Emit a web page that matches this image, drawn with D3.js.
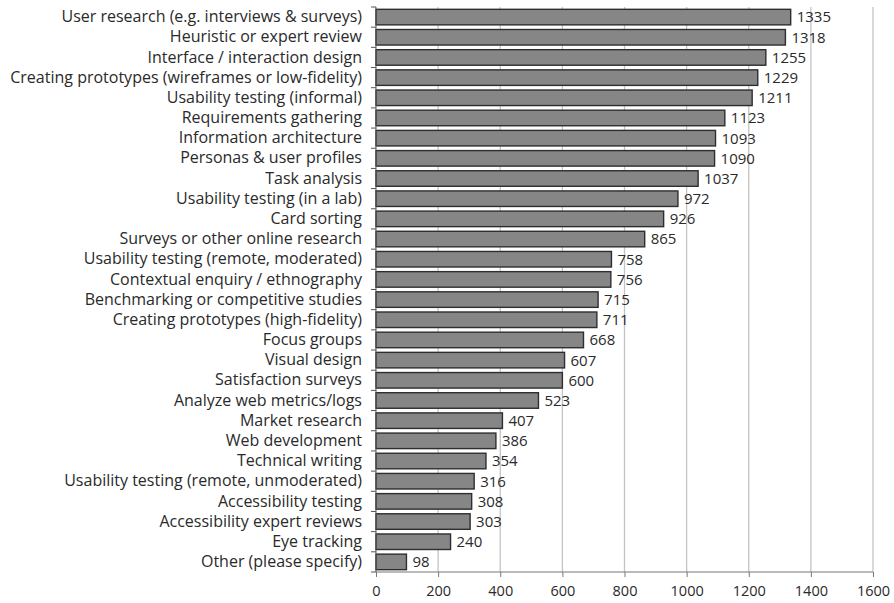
<!DOCTYPE html>
<html><head><meta charset="utf-8">
<script src="https://cdn.jsdelivr.net/npm/d3@7"></script>
<style>body{margin:0;background:#fff}svg{display:block}</style>
</head><body>
<svg id="c" width="894" height="603"></svg>
<script>
const categories = [
"User research (e.g. interviews & surveys)",
"Heuristic or expert review",
"Interface / interaction design",
"Creating prototypes (wireframes or low-fidelity)",
"Usability testing (informal)",
"Requirements gathering",
"Information architecture",
"Personas & user profiles",
"Task analysis",
"Usability testing (in a lab)",
"Card sorting",
"Surveys or other online research",
"Usability testing (remote, moderated)",
"Contextual enquiry / ethnography",
"Benchmarking or competitive studies",
"Creating prototypes (high-fidelity)",
"Focus groups",
"Visual design",
"Satisfaction surveys",
"Analyze web metrics/logs",
"Market research",
"Web development",
"Technical writing",
"Usability testing (remote, unmoderated)",
"Accessibility testing",
"Accessibility expert reviews",
"Eye tracking",
"Other (please specify)"
];
const values = [1335,1318,1255,1229,1211,1123,1093,1090,1037,972,926,865,758,756,715,711,668,607,600,523,407,386,354,316,308,303,240,98];
const xTicks = [0,200,400,600,800,1000,1200,1400,1600];

const svg = d3.select("#c");
const m = {left:376, right:873, top:7, bottom:572};
const font = "'Open Sans', sans-serif";
const x = d3.scaleLinear().domain([0,1600]).range([m.left, m.right]);
const y = d3.scaleBand().domain(categories).range([m.top, m.bottom]).paddingInner(0.23).paddingOuter(0.115);

// gridlines
svg.append("g").selectAll("line").data(xTicks.slice(1)).join("line")
  .attr("x1", d=>x(d)).attr("x2", d=>x(d)).attr("y1", m.top).attr("y2", m.bottom)
  .attr("stroke", "#c4c4c4").attr("stroke-width", 1.3);

// bars
svg.append("g").selectAll("rect").data(values).join("rect")
  .attr("x", x(0)).attr("y", (d,i)=>y(categories[i]))
  .attr("width", d=>x(d)-x(0)).attr("height", y.bandwidth())
  .attr("fill", "#868686").attr("stroke", "#2e2e2e").attr("stroke-width", 1.4);

// value labels
svg.append("g").selectAll("text").data(values).join("text")
  .attr("x", d=>x(d)+6).attr("y", (d,i)=>y(categories[i])+y.bandwidth()/2)
  .attr("dy", "0.36em").attr("font-family", font).attr("font-size", 15)
  .attr("fill", "#2a2a2a").text(d=>d);

// y axis
const yAxis = d3.axisLeft(y).tickSize(0).tickPadding(14);
const gy = svg.append("g").attr("transform", `translate(${m.left},0)`).call(yAxis);
gy.select(".domain").attr("stroke", "#555").attr("d", `M0,${m.top}V${m.bottom}`);
gy.selectAll("text").attr("font-family", font).attr("font-size", 16).attr("fill", "#2a2a2a");
// band boundary ticks
const bounds = d3.range(categories.length+1).map(i=>m.top + i*(m.bottom-m.top)/categories.length);
svg.append("g").selectAll("line").data(bounds).join("line")
  .attr("x1", m.left-5).attr("x2", m.left).attr("y1", d=>d).attr("y2", d=>d)
  .attr("stroke", "#555");

// x axis
const xAxis = d3.axisBottom(x).tickValues(xTicks).tickSize(5).tickPadding(9).tickFormat(d3.format("d"));
const gx = svg.append("g").attr("transform", `translate(0,${m.bottom})`).call(xAxis);
gx.select(".domain").attr("stroke", "#777").attr("d", `M${m.left},0H${m.right}`);
gx.selectAll(".tick line").attr("stroke", "#777");
gx.selectAll("text").attr("font-family", font).attr("font-size", 14.5).attr("fill", "#2a2a2a");
</script>
</body></html>
